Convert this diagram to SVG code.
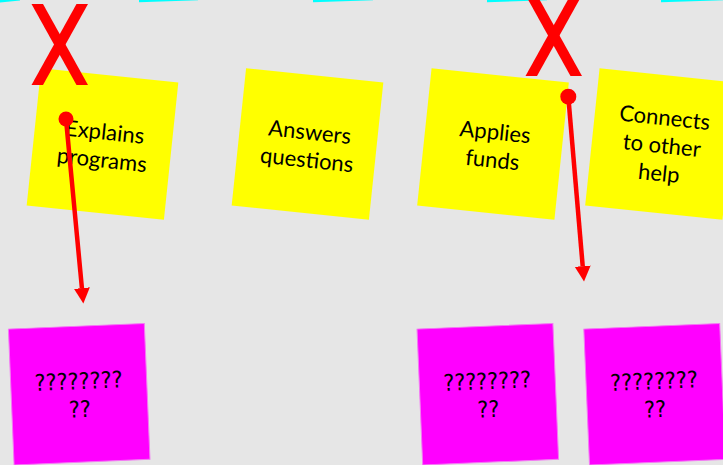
<svg xmlns="http://www.w3.org/2000/svg" width="723" height="465" viewBox="0 0 723 465">
  <defs>
    <style>
      .bg { fill: #e6e6e6; }
      .tab { fill: #00ffff; }
      .sticky-y { fill: #ffff00; }
      .sticky-m { fill: #ff00ff; stroke: #f37af3; stroke-width: 1; }
      .label { font-family: Lato, "Open Sans", "Liberation Sans", sans-serif; font-size: 22px; fill: #000; text-anchor: middle; }
      .qmark { font-family: "DejaVu Sans Condensed", "DejaVu Sans", sans-serif; font-size: 23px; fill: #000; text-anchor: middle; }
      .cross { fill: #ff0000; }
      .link { stroke: #ff0000; stroke-width: 4.5; fill: none; }
      .pin { fill: #ff0000; }
    </style>
    <marker id="head" markerUnits="userSpaceOnUse" markerWidth="16" markerHeight="18" refX="0" refY="8" orient="auto" viewBox="0 0 16 16">
      <path d="M0,0 L15.5,8 L0,16 z" fill="#ff0000"/>
    </marker>
    <!-- cross mark centred on its origin -->
    <g id="crossmark">
      <polygon class="cross" points="-28,-40.5 -16.5,-40.5 28.5,40.5 17,40.5"/>
      <polygon class="cross" points="17,-40.5 28.5,-40.5 -16.5,40.5 -28,40.5"/>
    </g>
  </defs>

  <rect class="bg" x="0" y="0" width="723" height="465"/>

  <!-- edges of the cards in the row above -->
  <g id="upper-row">
    <polygon class="tab" points="0,0 20,0 20,0.4 0,2.4"/>
    <polygon class="tab" points="139,0 198,0 198,0.3 139,2.3"/>
    <polygon class="tab" points="313,0 373,0 373,0.3 313,2.3"/>
    <polygon class="tab" points="487,0 547,0 547,0.3 487,2.3"/>
    <polygon class="tab" points="661,0 723,0 723,0.3 661,2.3"/>
  </g>

  <g id="note-explains" transform="translate(102.5 144) rotate(6)">
    <rect class="sticky-y" x="-69" y="-69" width="138" height="138"/>
    <text class="label" x="1" y="-4.5">Explains</text>
    <text class="label" x="1" y="23.5">programs</text>
  </g>

  <g id="note-answers" transform="translate(307.5 144) rotate(6)">
    <rect class="sticky-y" x="-69" y="-69" width="138" height="138"/>
    <text class="label" x="1" y="-4.5">Answers</text>
    <text class="label" x="1" y="23.5">questions</text>
  </g>

  <g id="note-applies" transform="translate(493 144) rotate(6)">
    <rect class="sticky-y" x="-69" y="-69" width="138" height="138"/>
    <text class="label" x="1" y="-4.5">Applies</text>
    <text class="label" x="1" y="23.5">funds</text>
  </g>

  <g id="note-connects" transform="translate(661 144) rotate(6)">
    <rect class="sticky-y" x="-69" y="-69" width="138" height="138"/>
    <text class="label" x="1" y="-19">Connects</text>
    <text class="label" x="1" y="9">to other</text>
    <text class="label" x="1" y="37">help</text>
  </g>

  <g id="note-q1" transform="translate(79.2 394.2) rotate(-2.4)">
    <rect class="sticky-m" x="-68" y="-68" width="136" height="136"/>
    <text class="qmark" x="0" y="-5">????????</text>
    <text class="qmark" x="0" y="23">??</text>
  </g>

  <g id="note-q2" transform="translate(487.8 394.2) rotate(-2.4)">
    <rect class="sticky-m" x="-68" y="-68" width="136" height="136"/>
    <text class="qmark" x="0" y="-5">????????</text>
    <text class="qmark" x="0" y="23">??</text>
  </g>

  <g id="note-q3" transform="translate(654.6 394.2) rotate(-2.4)">
    <rect class="sticky-m" x="-68" y="-68" width="136" height="136"/>
    <text class="qmark" x="0" y="-5">????????</text>
    <text class="qmark" x="0" y="23">??</text>
  </g>

  <g id="marks">
    <use href="#crossmark" transform="translate(59.5 44.5)"/>
    <use href="#crossmark" transform="translate(553.5 35.5)"/>
  </g>

  <g id="connectors">
    <line class="link" x1="66" y1="119" x2="81.9" y2="288.1" marker-end="url(#head)"/>
    <circle class="pin" cx="66" cy="119" r="7.5"/>
    <line class="link" x1="568.3" y1="96.7" x2="582.7" y2="266.1" marker-end="url(#head)"/>
    <circle class="pin" cx="568.3" cy="96.7" r="8"/>
  </g>
</svg>
